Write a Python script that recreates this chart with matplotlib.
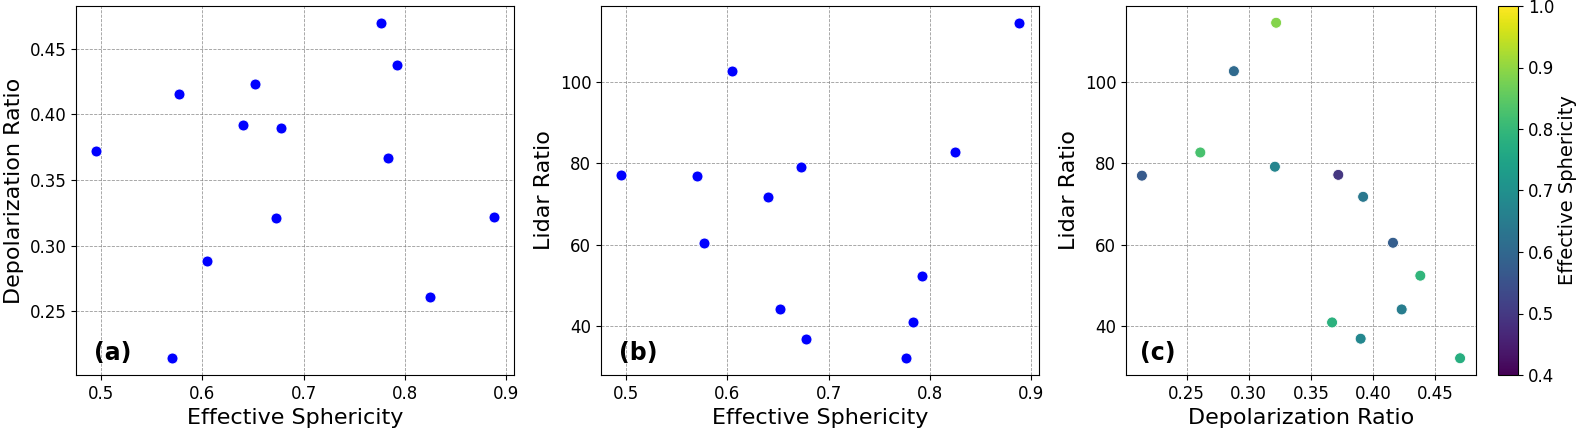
import matplotlib
matplotlib.use('Agg')

import matplotlib.pyplot as plt

# values
sphericity = [0.495, 0.570, 0.577, 0.605, 0.640, 0.652, 0.673, 0.678,
              0.776, 0.783, 0.792, 0.825, 0.888]
depol = [0.372, 0.214, 0.416, 0.288, 0.392, 0.423, 0.321, 0.390,
         0.470, 0.367, 0.438, 0.261, 0.322]
lidar = [77.2, 77.0, 60.5, 102.7, 71.8, 44.1, 79.2, 36.9,
         32.1, 40.9, 52.4, 82.7, 114.6]

fig = plt.figure(figsize=(15.77, 4.28), dpi=100)
H = 428.0
W = 1577.0


def box(x0, x1, y0=6, y1=375):
    return [x0 / W, 1 - y1 / H, (x1 - x0) / W, (y1 - y0) / H]


ax1 = fig.add_axes(box(76, 514))
ax2 = fig.add_axes(box(601, 1039))
ax3 = fig.add_axes(box(1126, 1476))
cax = fig.add_axes(box(1498, 1518))

kw = dict(s=62, edgecolors='white', linewidths=0.6, zorder=3)

ax1.scatter(sphericity, depol, color='blue', **kw)
ax1.set_xlabel('Effective Sphericity', fontsize=16)
ax1.set_ylabel('Depolarization Ratio', fontsize=16)

ax2.scatter(sphericity, lidar, color='blue', **kw)
ax2.set_xlabel('Effective Sphericity', fontsize=16)
ax2.set_ylabel('Lidar Ratio', fontsize=16)

sc = ax3.scatter(depol, lidar, c=sphericity, cmap='viridis', vmin=0.4, vmax=1.0, **kw)
ax3.set_xlabel('Depolarization Ratio', fontsize=16)
ax3.set_ylabel('Lidar Ratio', fontsize=16)

cb = fig.colorbar(sc, cax=cax)
cb.ax.tick_params(labelsize=12)
cb.set_label('Effective Sphericity', fontsize=14, labelpad=3)

for ax, lab in zip([ax1, ax2, ax3], ['(a)', '(b)', '(c)']):
    ax.grid(True, linestyle='--', linewidth=0.6, color='gray', alpha=0.8)
    ax.set_axisbelow(True)
    ax.tick_params(labelsize=12)
    ax.text(0.04, 0.04, lab, transform=ax.transAxes, fontsize=17, fontweight='bold')

ax3.set_xticks([0.25, 0.30, 0.35, 0.40, 0.45])
ax3.set_xticklabels(['0.25', '0.30', '0.35', '0.40', '0.45'])

fig.savefig('out.png', dpi=100)
